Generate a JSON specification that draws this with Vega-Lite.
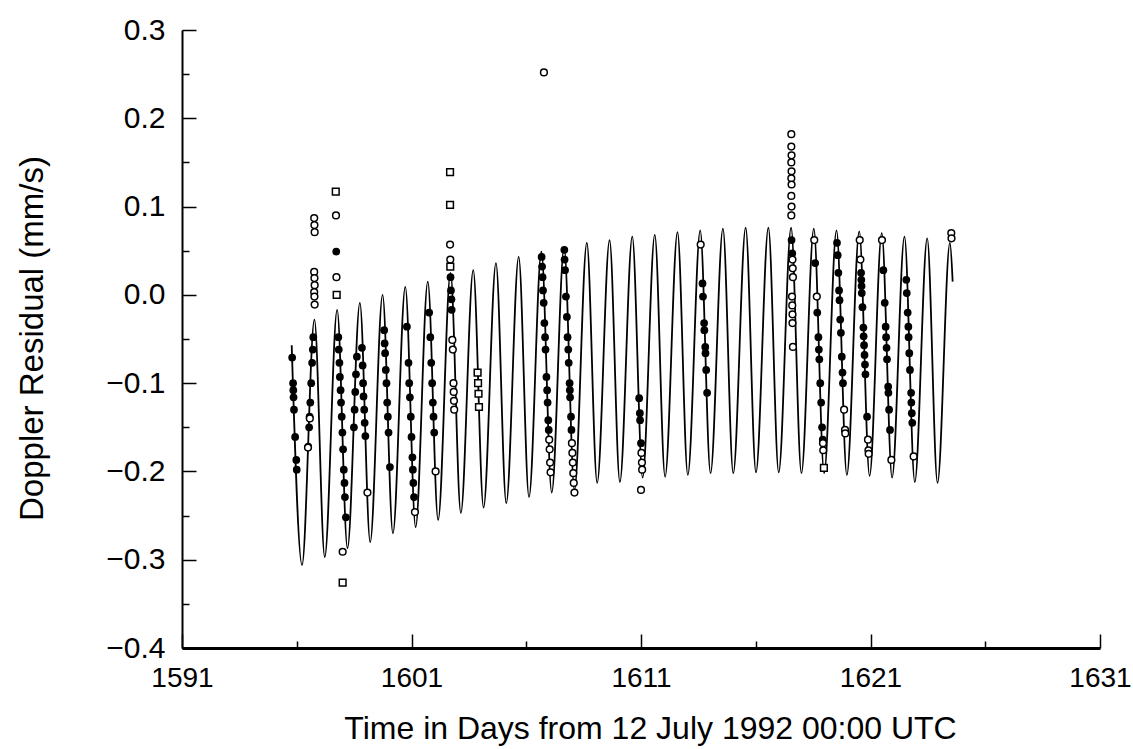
{
  "$schema": "https://vega.github.io/schema/vega-lite/v6.json",
  "width": 918,
  "height": 618,
  "autosize": {"type": "none"},
  "padding": {"left": 182, "top": 30, "right": 33, "bottom": 101},
  "background": "white",
  "config": {"view": {"stroke": null}, "font": "Liberation Sans"},
  "datasets": {
    "model": [
      {"t":1595.78,"v":-0.057},{"t":1596.23,"v":-0.306},{"t":1596.77,"v":-0.028},{"t":1597.22,"v":-0.297},
      {"t":1597.76,"v":-0.017},{"t":1598.21,"v":-0.287},{"t":1598.75,"v":-0.009},{"t":1599.20,"v":-0.280},
      {"t":1599.74,"v":0.000},{"t":1600.19,"v":-0.270},{"t":1600.73,"v":0.009},{"t":1601.18,"v":-0.263},
      {"t":1601.71,"v":0.015},{"t":1602.16,"v":-0.255},{"t":1602.70,"v":0.025},{"t":1603.15,"v":-0.247},
      {"t":1603.69,"v":0.028},{"t":1604.14,"v":-0.241},{"t":1604.68,"v":0.036},{"t":1605.13,"v":-0.236},
      {"t":1605.67,"v":0.043},{"t":1606.12,"v":-0.229},{"t":1606.66,"v":0.049},{"t":1607.11,"v":-0.224},
      {"t":1607.65,"v":0.054},{"t":1608.10,"v":-0.221},{"t":1608.64,"v":0.059},{"t":1609.09,"v":-0.213},
      {"t":1609.63,"v":0.062},{"t":1610.08,"v":-0.212},{"t":1610.62,"v":0.066},{"t":1611.07,"v":-0.207},
      {"t":1611.60,"v":0.068},{"t":1612.05,"v":-0.206},{"t":1612.59,"v":0.071},{"t":1613.04,"v":-0.204},
      {"t":1613.58,"v":0.073},{"t":1614.03,"v":-0.202},{"t":1614.57,"v":0.075},{"t":1615.02,"v":-0.202},
      {"t":1615.56,"v":0.076},{"t":1616.01,"v":-0.201},{"t":1616.55,"v":0.076},{"t":1617.00,"v":-0.201},
      {"t":1617.54,"v":0.076},{"t":1617.99,"v":-0.202},{"t":1618.53,"v":0.075},{"t":1618.98,"v":-0.202},
      {"t":1619.52,"v":0.073},{"t":1619.97,"v":-0.204},{"t":1620.51,"v":0.072},{"t":1620.96,"v":-0.205},
      {"t":1621.49,"v":0.070},{"t":1621.94,"v":-0.207},{"t":1622.48,"v":0.066},{"t":1622.93,"v":-0.212},
      {"t":1623.47,"v":0.064},{"t":1623.92,"v":-0.213},{"t":1624.46,"v":0.059},{"t":1624.58,"v":0.015}
    ],
    "obs": [
      {"t":1595.80,"v":-0.071,"k":"f"},{"t":1595.84,"v":-0.100,"k":"f"},{"t":1595.85,"v":-0.108,"k":"f"},{"t":1595.86,"v":-0.116,"k":"f"},
      {"t":1595.88,"v":-0.130,"k":"f"},{"t":1595.93,"v":-0.161,"k":"f"},{"t":1595.98,"v":-0.187,"k":"f"},{"t":1596.00,"v":-0.198,"k":"f"},
      {"t":1596.72,"v":-0.048,"k":"f"},{"t":1596.70,"v":-0.062,"k":"f"},{"t":1596.67,"v":-0.077,"k":"f"},{"t":1596.63,"v":-0.100,"k":"f"},
      {"t":1596.59,"v":-0.122,"k":"f"},{"t":1596.56,"v":-0.138,"k":"f"},{"t":1596.54,"v":-0.150,"k":"f"},{"t":1596.50,"v":-0.172,"k":"f"},
      {"t":1596.57,"v":-0.140,"k":"o"},{"t":1596.49,"v":-0.173,"k":"o"},{"t":1596.76,"v":0.087,"k":"o"},{"t":1596.77,"v":0.079,"k":"o"},
      {"t":1596.78,"v":0.071,"k":"o"},{"t":1596.76,"v":0.026,"k":"o"},{"t":1596.77,"v":0.019,"k":"o"},{"t":1596.78,"v":0.011,"k":"o"},
      {"t":1596.76,"v":0.003,"k":"o"},{"t":1596.77,"v":-0.002,"k":"o"},{"t":1596.78,"v":-0.011,"k":"o"},
      {"t":1597.81,"v":-0.048,"k":"f"},{"t":1597.83,"v":-0.062,"k":"f"},{"t":1597.86,"v":-0.077,"k":"f"},{"t":1597.88,"v":-0.093,"k":"f"},
      {"t":1597.91,"v":-0.108,"k":"f"},{"t":1597.93,"v":-0.122,"k":"f"},{"t":1597.96,"v":-0.138,"k":"f"},{"t":1597.99,"v":-0.156,"k":"f"},
      {"t":1598.02,"v":-0.175,"k":"f"},{"t":1598.05,"v":-0.198,"k":"f"},{"t":1598.08,"v":-0.213,"k":"f"},{"t":1598.10,"v":-0.229,"k":"f"},
      {"t":1598.14,"v":-0.252,"k":"f"},{"t":1597.72,"v":0.049,"k":"f"},
      {"t":1598.00,"v":-0.291,"k":"o"},{"t":1597.71,"v":0.090,"k":"o"},{"t":1597.73,"v":0.020,"k":"o"},
      {"t":1598.00,"v":-0.326,"k":"s"},{"t":1597.70,"v":0.117,"k":"s"},{"t":1597.74,"v":0.000,"k":"s"},
      {"t":1598.62,"v":-0.07,"k":"f"},{"t":1598.58,"v":-0.09,"k":"f"},{"t":1598.55,"v":-0.11,"k":"f"},{"t":1598.52,"v":-0.13,"k":"f"},
      {"t":1598.49,"v":-0.15,"k":"f"},{"t":1598.84,"v":-0.06,"k":"f"},{"t":1598.87,"v":-0.08,"k":"f"},{"t":1598.89,"v":-0.10,"k":"f"},
      {"t":1598.91,"v":-0.115,"k":"f"},{"t":1598.94,"v":-0.13,"k":"f"},{"t":1598.96,"v":-0.145,"k":"f"},{"t":1598.99,"v":-0.16,"k":"f"},
      {"t":1599.08,"v":-0.224,"k":"o"},
      {"t":1599.81,"v":-0.040,"k":"f"},{"t":1599.83,"v":-0.055,"k":"f"},{"t":1599.85,"v":-0.066,"k":"f"},{"t":1599.88,"v":-0.085,"k":"f"},
      {"t":1599.91,"v":-0.100,"k":"f"},{"t":1599.94,"v":-0.122,"k":"f"},{"t":1599.97,"v":-0.138,"k":"f"},{"t":1600.00,"v":-0.156,"k":"f"},
      {"t":1600.06,"v":-0.195,"k":"f"},
      {"t":1600.80,"v":-0.036,"k":"f"},{"t":1600.87,"v":-0.077,"k":"f"},{"t":1600.90,"v":-0.100,"k":"f"},{"t":1600.93,"v":-0.116,"k":"f"},
      {"t":1600.97,"v":-0.138,"k":"f"},{"t":1601.00,"v":-0.161,"k":"f"},{"t":1601.04,"v":-0.184,"k":"f"},{"t":1601.06,"v":-0.198,"k":"f"},
      {"t":1601.08,"v":-0.213,"k":"f"},{"t":1601.11,"v":-0.229,"k":"f"},{"t":1601.15,"v":-0.246,"k":"o"},
      {"t":1601.77,"v":-0.020,"k":"f"},{"t":1601.82,"v":-0.048,"k":"f"},{"t":1601.86,"v":-0.077,"k":"f"},{"t":1601.90,"v":-0.100,"k":"f"},
      {"t":1601.93,"v":-0.122,"k":"f"},{"t":1601.96,"v":-0.138,"k":"f"},{"t":1601.99,"v":-0.156,"k":"f"},{"t":1602.05,"v":-0.200,"k":"o"},
      {"t":1602.68,"v":0.139,"k":"s"},{"t":1602.68,"v":0.102,"k":"s"},{"t":1602.69,"v":0.032,"k":"s"},
      {"t":1602.68,"v":0.057,"k":"o"},{"t":1602.69,"v":0.040,"k":"o"},{"t":1602.78,"v":-0.051,"k":"o"},{"t":1602.80,"v":-0.062,"k":"o"},
      {"t":1602.83,"v":-0.100,"k":"o"},{"t":1602.84,"v":-0.110,"k":"o"},{"t":1602.85,"v":-0.120,"k":"o"},{"t":1602.86,"v":-0.130,"k":"o"},
      {"t":1602.70,"v":0.020,"k":"f"},{"t":1602.72,"v":0.005,"k":"f"},{"t":1602.74,"v":-0.005,"k":"f"},{"t":1602.75,"v":-0.017,"k":"f"},
      {"t":1603.88,"v":-0.088,"k":"s"},{"t":1603.90,"v":-0.100,"k":"s"},{"t":1603.92,"v":-0.112,"k":"s"},{"t":1603.94,"v":-0.127,"k":"s"},
      {"t":1606.67,"v":0.043,"k":"f"},{"t":1606.69,"v":0.032,"k":"f"},{"t":1606.71,"v":0.020,"k":"f"},{"t":1606.73,"v":0.005,"k":"f"},
      {"t":1606.76,"v":-0.009,"k":"f"},{"t":1606.79,"v":-0.032,"k":"f"},{"t":1606.82,"v":-0.048,"k":"f"},{"t":1606.84,"v":-0.062,"k":"f"},
      {"t":1606.88,"v":-0.093,"k":"f"},{"t":1606.91,"v":-0.108,"k":"f"},{"t":1606.93,"v":-0.122,"k":"f"},{"t":1606.96,"v":-0.142,"k":"f"},
      {"t":1606.98,"v":-0.153,"k":"f"},
      {"t":1607.00,"v":-0.164,"k":"o"},{"t":1607.02,"v":-0.175,"k":"o"},{"t":1607.04,"v":-0.190,"k":"o"},{"t":1607.06,"v":-0.201,"k":"o"},
      {"t":1606.77,"v":0.252,"k":"o"},
      {"t":1607.66,"v":0.051,"k":"f"},{"t":1607.67,"v":0.040,"k":"f"},{"t":1607.69,"v":0.028,"k":"f"},{"t":1607.73,"v":-0.002,"k":"f"},
      {"t":1607.77,"v":-0.025,"k":"f"},{"t":1607.80,"v":-0.048,"k":"f"},{"t":1607.83,"v":-0.062,"k":"f"},{"t":1607.85,"v":-0.077,"k":"f"},
      {"t":1607.89,"v":-0.100,"k":"f"},{"t":1607.90,"v":-0.108,"k":"f"},{"t":1607.91,"v":-0.116,"k":"f"},{"t":1607.95,"v":-0.138,"k":"f"},
      {"t":1607.97,"v":-0.153,"k":"f"},
      {"t":1607.99,"v":-0.168,"k":"o"},{"t":1608.01,"v":-0.179,"k":"o"},{"t":1608.03,"v":-0.190,"k":"o"},{"t":1608.05,"v":-0.202,"k":"o"},
      {"t":1608.07,"v":-0.213,"k":"o"},{"t":1608.10,"v":-0.224,"k":"o"},
      {"t":1610.92,"v":-0.117,"k":"f"},{"t":1610.95,"v":-0.134,"k":"f"},{"t":1610.96,"v":-0.142,"k":"f"},{"t":1611.00,"v":-0.168,"k":"f"},
      {"t":1611.02,"v":-0.179,"k":"o"},{"t":1611.04,"v":-0.190,"k":"o"},{"t":1611.05,"v":-0.198,"k":"o"},{"t":1611.00,"v":-0.221,"k":"o"},
      {"t":1613.60,"v":0.057,"k":"o"},
      {"t":1613.68,"v":0.013,"k":"f"},{"t":1613.70,"v":-0.002,"k":"f"},{"t":1613.75,"v":-0.032,"k":"f"},{"t":1613.76,"v":-0.040,"k":"f"},
      {"t":1613.80,"v":-0.059,"k":"f"},{"t":1613.81,"v":-0.066,"k":"f"},{"t":1613.84,"v":-0.085,"k":"f"},{"t":1613.88,"v":-0.111,"k":"f"},
      {"t":1617.55,"v":0.182,"k":"o"},{"t":1617.55,"v":0.168,"k":"o"},{"t":1617.56,"v":0.158,"k":"o"},{"t":1617.55,"v":0.150,"k":"o"},
      {"t":1617.56,"v":0.140,"k":"o"},{"t":1617.55,"v":0.132,"k":"o"},{"t":1617.56,"v":0.125,"k":"o"},{"t":1617.55,"v":0.112,"k":"o"},
      {"t":1617.56,"v":0.100,"k":"o"},{"t":1617.55,"v":0.090,"k":"o"},{"t":1617.60,"v":0.040,"k":"o"},{"t":1617.61,"v":0.030,"k":"o"},
      {"t":1617.62,"v":0.020,"k":"o"},{"t":1617.58,"v":-0.002,"k":"o"},{"t":1617.59,"v":-0.012,"k":"o"},{"t":1617.60,"v":-0.022,"k":"o"},
      {"t":1617.60,"v":-0.032,"k":"o"},{"t":1617.62,"v":-0.059,"k":"o"},
      {"t":1617.56,"v":0.062,"k":"f"},{"t":1617.59,"v":0.047,"k":"f"},
      {"t":1618.55,"v":0.062,"k":"o"},{"t":1618.66,"v":-0.002,"k":"o"},{"t":1618.93,"v":-0.168,"k":"o"},{"t":1618.94,"v":-0.176,"k":"o"},
      {"t":1618.97,"v":-0.196,"k":"s"},
      {"t":1618.59,"v":0.036,"k":"f"},{"t":1618.68,"v":-0.020,"k":"f"},{"t":1618.73,"v":-0.048,"k":"f"},{"t":1618.75,"v":-0.062,"k":"f"},
      {"t":1618.77,"v":-0.073,"k":"f"},{"t":1618.81,"v":-0.100,"k":"f"},{"t":1618.85,"v":-0.122,"k":"f"},{"t":1618.89,"v":-0.150,"k":"f"},
      {"t":1618.92,"v":-0.164,"k":"f"},
      {"t":1619.54,"v":0.059,"k":"f"},{"t":1619.57,"v":0.045,"k":"f"},{"t":1619.60,"v":0.025,"k":"f"},{"t":1619.63,"v":0.005,"k":"f"},
      {"t":1619.65,"v":-0.006,"k":"f"},{"t":1619.68,"v":-0.028,"k":"f"},{"t":1619.71,"v":-0.043,"k":"f"},{"t":1619.75,"v":-0.070,"k":"f"},
      {"t":1619.78,"v":-0.088,"k":"f"},{"t":1619.80,"v":-0.100,"k":"f"},
      {"t":1619.85,"v":-0.130,"k":"o"},{"t":1619.89,"v":-0.153,"k":"o"},{"t":1619.90,"v":-0.157,"k":"o"},
      {"t":1620.53,"v":0.062,"k":"o"},{"t":1620.56,"v":0.040,"k":"o"},{"t":1620.89,"v":-0.164,"k":"o"},{"t":1620.91,"v":-0.176,"k":"o"},
      {"t":1620.92,"v":-0.180,"k":"o"},
      {"t":1620.59,"v":0.025,"k":"f"},{"t":1620.60,"v":0.017,"k":"f"},{"t":1620.61,"v":0.010,"k":"f"},{"t":1620.62,"v":0.002,"k":"f"},
      {"t":1620.65,"v":-0.014,"k":"f"},{"t":1620.69,"v":-0.037,"k":"f"},{"t":1620.70,"v":-0.047,"k":"f"},{"t":1620.72,"v":-0.057,"k":"f"},
      {"t":1620.74,"v":-0.068,"k":"f"},{"t":1620.76,"v":-0.079,"k":"f"},{"t":1620.78,"v":-0.090,"k":"f"},{"t":1620.85,"v":-0.138,"k":"f"},
      {"t":1621.50,"v":0.062,"k":"o"},{"t":1621.91,"v":-0.187,"k":"o"},
      {"t":1621.56,"v":0.028,"k":"f"},{"t":1621.62,"v":-0.009,"k":"f"},{"t":1621.66,"v":-0.036,"k":"f"},{"t":1621.68,"v":-0.048,"k":"f"},
      {"t":1621.70,"v":-0.060,"k":"f"},{"t":1621.72,"v":-0.073,"k":"f"},{"t":1621.77,"v":-0.104,"k":"f"},{"t":1621.78,"v":-0.111,"k":"f"},
      {"t":1621.81,"v":-0.130,"k":"f"},{"t":1621.85,"v":-0.153,"k":"f"},
      {"t":1622.56,"v":0.017,"k":"f"},{"t":1622.58,"v":0.002,"k":"f"},{"t":1622.62,"v":-0.020,"k":"f"},{"t":1622.65,"v":-0.036,"k":"f"},
      {"t":1622.66,"v":-0.048,"k":"f"},{"t":1622.69,"v":-0.066,"k":"f"},{"t":1622.72,"v":-0.085,"k":"f"},{"t":1622.77,"v":-0.111,"k":"f"},
      {"t":1622.78,"v":-0.122,"k":"f"},{"t":1622.80,"v":-0.134,"k":"f"},{"t":1622.82,"v":-0.145,"k":"f"},{"t":1622.88,"v":-0.183,"k":"o"},
      {"t":1624.52,"v":0.070,"k":"o"},{"t":1624.53,"v":0.064,"k":"o"}
    ]
  },
  "encoding": {
    "x": {
      "field": "t", "type": "quantitative",
      "scale": {"domain": [1591, 1631], "nice": false, "zero": false},
      "axis": {
        "values": [1591, 1596, 1601, 1606, 1611, 1616, 1621, 1626, 1631],
        "format": "d",
        "labelExpr": "datum.value % 10 == 1 ? datum.label : ''",
        "tickSize": {"condition": {"test": "datum.value % 10 == 1", "value": -14}, "value": -7},
        "tickColor": "black", "tickWidth": 1.5,
        "domainColor": "black", "domainWidth": 3,
        "labelFont": "Liberation Sans", "labelFontSize": 28, "labelColor": "black",
        "labelPadding": 30, "labelFlush": false, "labelOverlap": false,
        "grid": false,
        "title": "Time in Days from 12 July 1992 00:00 UTC",
        "titleFont": "Liberation Sans", "titleFontSize": 32, "titleFontWeight": "normal", "titleColor": "black",
        "titleX": 468, "titleY": 90, "titleBaseline": "alphabetic", "titleAlign": "center"
      }
    },
    "y": {
      "field": "v", "type": "quantitative",
      "scale": {"domain": [-0.4, 0.3], "nice": false, "zero": false},
      "axis": {
        "values": [-0.4, -0.35, -0.3, -0.25, -0.2, -0.15, -0.1, -0.05, 0, 0.05, 0.1, 0.15, 0.2, 0.25, 0.3],
        "labelExpr": "abs(round(datum.value*20)) % 2 == 0 ? format(datum.value, '.1f') : ''",
        "tickSize": {"condition": {"test": "abs(round(datum.value*20)) % 2 == 0", "value": -14}, "value": -7},
        "tickColor": "black", "tickWidth": 1.5,
        "domainColor": "black", "domainWidth": 2,
        "labelFont": "Liberation Sans", "labelFontSize": 30, "labelColor": "black",
        "labelPadding": 31, "labelFlush": false, "labelOverlap": false,
        "grid": false,
        "title": "Doppler Residual (mm/s)",
        "titleFont": "Liberation Sans", "titleFontSize": 33, "titleFontWeight": "normal", "titleColor": "black",
        "titleX": -140, "titleY": 308, "titleBaseline": "alphabetic", "titleAlign": "center", "titleAngle": -90
      }
    }
  },
  "layer": [
    {
      "data": {"name": "model"},
      "mark": {"type": "line", "interpolate": "monotone", "color": "black", "strokeWidth": 1.8}
    },
    {
      "data": {"name": "obs"},
      "transform": [{"filter": "datum.k == 'f'"}],
      "mark": {"type": "point", "shape": "circle", "filled": true, "color": "black", "size": 60, "opacity": 1}
    },
    {
      "data": {"name": "obs"},
      "transform": [{"filter": "datum.k == 'o'"}],
      "mark": {"type": "point", "shape": "circle", "filled": false, "stroke": "black", "fill": "white", "fillOpacity": 1, "strokeWidth": 1.5, "size": 45, "opacity": 1}
    },
    {
      "data": {"name": "obs"},
      "transform": [{"filter": "datum.k == 's'"}],
      "mark": {"type": "point", "shape": "square", "filled": false, "stroke": "black", "fill": "white", "fillOpacity": 1, "strokeWidth": 1.5, "size": 45, "opacity": 1}
    }
  ]
}
